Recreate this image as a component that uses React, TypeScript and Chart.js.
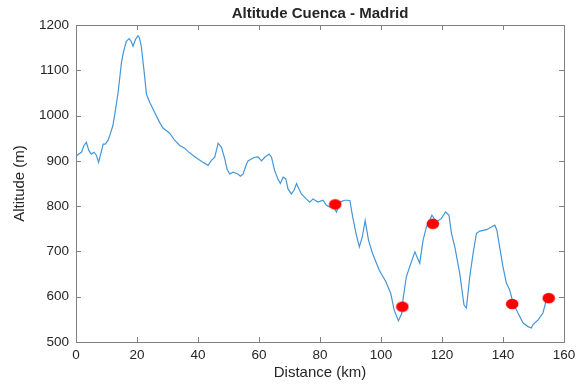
import React, { useEffect, useRef } from "react";
import { Chart, registerables } from "chart.js";

Chart.register(...registerables);

const distances = [
  0, 0.9, 1.8, 2.6, 3.4, 4.2, 5.0, 5.9, 6.7, 7.4, 8.1, 8.9, 9.6, 10.5, 11.4, 12.1, 13.0, 13.8, 14.9, 15.6,
  16.5, 17.4, 18.0, 18.7, 19.5, 20.3, 20.8, 21.4, 22.5, 23.1, 24.2, 25.8, 27.4, 28.6, 29.8, 30.7, 32.4, 34.0,
  35.6, 36.7, 38.4, 40.0, 41.6, 43.3, 44.4, 45.5, 46.6, 47.7, 48.8, 49.5, 50.4, 51.5, 53.1, 53.9, 54.8, 55.9,
  56.4, 57.5, 58.6, 59.7, 60.8, 61.9, 63.3, 64.1, 65.1, 66.2, 67.0, 67.9, 68.8, 69.5, 70.6, 71.5, 72.3, 73.1,
  73.9, 75.5, 76.6, 77.7, 79.3, 81.0, 82.1, 83.2, 84.3, 85.4, 86.5, 88.1, 89.2, 89.8, 90.7, 91.8, 92.9, 93.9,
  94.8, 95.9, 97.2, 99.4, 101.6, 103.2, 104.3, 105.7, 106.8, 107.2, 108.3, 109.4, 111.1, 112.7, 113.8, 114.9,
  116.7, 118.2, 119.8, 121.2, 122.3, 123.1, 124.2, 125.8, 127.2, 128.0, 129.1, 130.2, 131.3, 132.4, 134.6,
  136.2, 137.3, 138.0, 138.9, 140.0, 141.1, 142.2, 143.3, 144.9, 146.6, 148.2, 149.3, 149.8, 151.5, 153.1,
  154.2,
];
const altitudes = [
  910, 915, 919, 934, 941, 923, 915, 919, 912, 897, 915, 937, 937, 945, 963, 978, 1015, 1051, 1117, 1142,
  1164, 1170, 1165, 1153, 1168, 1176, 1172, 1153, 1087, 1047, 1029, 1007, 985, 972, 966, 961, 945, 934,
  928, 921, 912, 904, 897, 890, 901, 908, 939, 930, 904, 882, 871, 875, 871, 866, 871, 893,
  900, 904, 908, 909, 900, 908, 915, 908, 879, 860, 850, 864, 860, 838, 827, 835, 850, 838,
  827, 816, 809, 816, 809, 813, 802, 798, 800, 787, 809, 813, 813, 812, 777, 740, 710, 733,
  768, 725, 696, 659, 633, 607, 571, 547, 563, 593, 644, 666, 699, 674, 725, 754,
  780, 765, 773, 787, 780, 740, 710, 652, 582, 575, 644, 696, 740, 745, 748,
  754, 758, 747, 710, 666, 630, 615, 586, 564, 542, 534, 531, 538, 549, 564,
  593,
];
const markerDistances = [85, 107, 117, 143, 155];
const markerAltitudes = [804, 578, 761, 584, 597];

const xTicks = [0, 20, 40, 60, 80, 100, 120, 140, 160];
const yTicks = [500, 600, 700, 800, 900, 1000, 1100, 1200];

const FONT = "'Liberation Sans', Arial, sans-serif";
const TEXT = "#262626";
const AXIS = "#808080";

const insideTicks = {
  id: "insideTicks",
  afterDraw(chart: any) {
    const { ctx, chartArea, scales } = chart;
    const len = 5;
    ctx.save();
    ctx.strokeStyle = AXIS;
    ctx.lineWidth = 1;
    ctx.beginPath();
    xTicks.forEach((v) => {
      const px = Math.round(scales.x.getPixelForValue(v)) + 0.5;
      ctx.moveTo(px, chartArea.bottom);
      ctx.lineTo(px, chartArea.bottom - len);
      ctx.moveTo(px, chartArea.top);
      ctx.lineTo(px, chartArea.top + len);
    });
    yTicks.forEach((v) => {
      const py = Math.round(scales.y.getPixelForValue(v)) + 0.5;
      ctx.moveTo(chartArea.left, py);
      ctx.lineTo(chartArea.left + len, py);
      ctx.moveTo(chartArea.right, py);
      ctx.lineTo(chartArea.right - len, py);
    });
    ctx.stroke();
    ctx.strokeRect(
      Math.round(chartArea.left) + 0.5,
      Math.round(chartArea.top) + 0.5,
      Math.round(chartArea.right - chartArea.left),
      Math.round(chartArea.bottom - chartArea.top)
    );
    ctx.restore();
  },
};

function makeEllipse(): HTMLCanvasElement {
  const c = document.createElement("canvas");
  c.width = 14;
  c.height = 12;
  const g = c.getContext("2d")!;
  g.fillStyle = "#ff0000";
  g.beginPath();
  g.ellipse(7, 6, 6.3, 5.3, 0, 0, Math.PI * 2);
  g.fill();
  return c;
}

export default function App() {
  const ref = useRef<HTMLCanvasElement>(null);
  useEffect(() => {
    if (!ref.current) return;
    const ellipse = makeEllipse();
    const lineData = distances.map((d, i) => ({ x: d, y: altitudes[i] }));
    const markerData = markerDistances.map((d, i) => ({ x: d, y: markerAltitudes[i] }));
    const chart = new Chart(ref.current, {
      type: "scatter",
      data: {
        datasets: [
          {
            type: "line",
            data: lineData,
            borderColor: "#4596d8",
            borderWidth: 1.2,
            pointRadius: 0,
            tension: 0,
            fill: false,
            order: 2,
          } as any,
          {
            type: "scatter",
            data: markerData,
            pointStyle: ellipse as any,
            backgroundColor: "#ff0000",
            borderColor: "#ff0000",
            pointRadius: 6,
            order: 1,
          },
        ],
      },
      options: {
        animation: false,
        responsive: false,
        layout: { padding: { top: 0, right: 19, bottom: 0, left: 0 } },
        plugins: {
          legend: { display: false },
          tooltip: { enabled: false },
          title: {
            display: true,
            text: "Altitude Cuenca - Madrid",
            fullSize: false,
            color: TEXT,
            font: { family: FONT, size: 15, weight: "bold" },
            padding: { top: 5, bottom: 2 },
          },
        },
        scales: {
          x: {
            type: "linear",
            min: 0,
            max: 160,
            afterFit(scale: any) {
              scale.height = 43;
            },
            afterBuildTicks(scale: any) {
              scale.ticks = xTicks.map((v) => ({ value: v }));
            },
            grid: { display: false, drawTicks: false },
            border: { display: false },
            ticks: {
              color: TEXT,
              font: { family: FONT, size: 13.5 },
              padding: 5,
              maxRotation: 0,
              callback: (v: any) => String(v),
            },
            title: {
              display: true,
              text: "Distance (km)",
              color: TEXT,
              font: { family: FONT, size: 15 },
              padding: { top: 0, bottom: 3 },
            },
          },
          y: {
            type: "linear",
            min: 500,
            max: 1200,
            afterFit(scale: any) {
              scale.width = 76;
            },
            afterBuildTicks(scale: any) {
              scale.ticks = yTicks.map((v) => ({ value: v }));
            },
            grid: { display: false, drawTicks: false },
            border: { display: false },
            ticks: {
              color: TEXT,
              font: { family: FONT, size: 13.5 },
              padding: 7,
              callback: (v: any) => String(v),
            },
            title: {
              display: true,
              text: "Altitude (m)",
              color: TEXT,
              font: { family: FONT, size: 15 },
              padding: { top: 11, bottom: 0 },
            },
          },
        },
      },
      plugins: [insideTicks],
    });
    return () => chart.destroy();
  }, []);
  return (
    <div style={{ position: "fixed", left: 0, top: 0, width: 583, height: 385, background: "#fff" }}>
      <canvas ref={ref} width={583} height={385} style={{ width: 583, height: 385, display: "block" }} />
    </div>
  );
}
